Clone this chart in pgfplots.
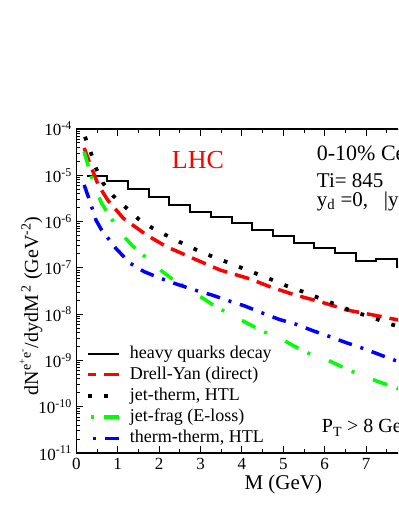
\documentclass[border=0pt]{standalone}
\usepackage{pgfplots}
\pgfplotsset{compat=1.18}
\usepackage{fontspec}
\setmainfont{Liberation Serif}
\definecolor{pRed}{RGB}{255,0,0}
\definecolor{pGreen}{RGB}{0,255,0}
\definecolor{pBlue}{RGB}{0,0,255}
\newcommand{\fs}[1]{\fontsize{#1}{#1}\selectfont}
\pgfplotsset{
  revleg/.style={legend image code/.code={\draw[##1] (31bp,0bp) -- (0bp,0bp);}},
  fwdleg/.style={legend image code/.code={\draw[##1] (0bp,0bp) -- (31bp,0bp);}},
}
\begin{document}
\begin{tikzpicture}[x=1bp,y=1bp]
\useasboundingbox (0,0) rectangle (398,515);
\clip (0,0) rectangle (398,515);
\begin{axis}[
  at={(76.3bp,62bp)}, anchor=south west,
  scale only axis, width=414bp, height=324bp,
  xmin=0, xmax=10, ymin=1e-11, ymax=1e-4,
  ymode=log,
  axis line style={line width=1.2bp},
  every tick/.style={black, line width=0.9bp},
  major tick length=7bp, minor tick length=4bp,
  tick align=inside,
  xtick={0,1,2,3,4,5,6,7,8,9,10},
  xticklabels={0,1,2,3,4,5,6,7,8,9,10},
  minor xtick={0.5,1.5,2.5,3.5,4.5,5.5,6.5,7.5,8.5,9.5},
  ytick={1e-11,1e-10,1e-9,1e-8,1e-7,1e-6,1e-5,1e-4},
  yticklabels={10\textsuperscript{-11},10\textsuperscript{-10},10\textsuperscript{-9},10\textsuperscript{-8},10\textsuperscript{-7},10\textsuperscript{-6},10\textsuperscript{-5},10\textsuperscript{-4}},
  xticklabel style={font=\fs{17bp}, anchor=base, yshift=-16.5bp},
  yticklabel style={font=\fs{17bp}, anchor=base east, xshift=-1bp, yshift=-7bp},
  xlabel={M (GeV)},
  xlabel style={font=\fs{21bp}, at={(axis description cs:0.5,0)}, anchor=base, yshift=-36.5bp},
  legend cell align=left,
  revleg,
  legend style={draw=none, fill=none, at={(axis description cs:0.0234,0.3333)}, anchor=north west,
    inner sep=0pt, outer sep=0pt, font=\fs{18bp}, row sep=4.2bp,
    nodes={inner sep=0pt, text height=13bp, text depth=4bp},
    /tikz/every odd column/.append style={column sep=9bp}},
]
\addplot[black, line width=2bp, const plot mark left] coordinates {
(0.25,9.7e-6)(0.75,7.5e-6)(1.25,5.06e-6)(1.75,3.45e-6)(2.25,2.25e-6)(2.75,1.59e-6)
(3.25,1.24e-6)(3.75,9.2e-7)(4.25,6.6e-7)(4.75,4.8e-7)(5.25,3.5e-7)(5.75,2.65e-7)
(6.25,2.07e-7)(6.75,1.43e-7)(7.25,1.56e-7)(7.75,1.06e-7)(8.25,9e-8)(8.75,7e-8)
(9.25,6e-8)(9.75,6e-8)};
\addlegendentry{heavy quarks decay}
\addplot[pRed, line width=3.5bp, dash pattern=on 15bp off 8bp] coordinates {
(0.19,3.9e-5)(0.35,1.58e-5)(0.53,6.2e-6)(0.76,2.9e-6)(1.135,1.18e-6)(1.7,5.1e-7)
(2.18,2.87e-7)(2.91,1.48e-7)(3.47,9.0e-8)(4.2,5.75e-8)(4.68,3.9e-8)(5.28,2.6e-8)
(5.89,1.86e-8)(6.53,1.23e-8)(7.17,9.6e-9)(7.77,7.5e-9)(8.5,5.5e-9)(10,3e-9)};
\addlegendentry{Drell-Yan (direct)}
\addplot[black, line width=3.8bp, dash pattern=on 3.8bp off 12.5bp, fwdleg] coordinates {
(0.21,6.8e-5)(0.35,3.1e-5)(0.476,1.42e-5)(0.65,6.7e-6)(0.894,3.57e-6)(1.2,2.0e-6)
(1.5,1.14e-6)(1.82,7.4e-7)(2.18,5.0e-7)(2.56,3.4e-7)(2.92,2.4e-7)(3.29,1.75e-7)
(3.67,1.3e-7)(4.05,9.5e-8)(4.42,7.1e-8)(4.8,5.2e-8)(5.16,3.8e-8)(5.55,2.9e-8)
(5.93,2.1e-8)(6.3,1.58e-8)(6.69,1.13e-8)(7.08,8.9e-9)(7.46,6.7e-9)(8,4.6e-9)(10,1.5e-9)};
\addlegendentry{jet-therm, HTL}
\addplot[pGreen, line width=3.5bp, dash pattern=on 15bp off 10bp on 3bp off 20bp] coordinates {
(0.19,3.2e-5)(0.35,1.02e-5)(0.476,4.8e-6)(0.61,2.5e-6)(0.81,1.29e-6)(1.12,5.1e-7)
(1.34,3.1e-7)(1.7,1.62e-7)(2.05,8.7e-8)(2.3,5.9e-8)(2.75,3.3e-8)(3.11,2.05e-8)
(3.37,1.45e-8)(3.79,9.2e-9)(4.2,5.9e-9)(4.52,4.2e-9)(4.92,3.0e-9)(5.36,1.83e-9)
(5.645,1.38e-9)(6.09,1.0e-9)(6.53,6.5e-10)(6.85,4.9e-10)(7.29,3.5e-10)(7.7,2.6e-10)
(8.5,1.5e-10)(10,5e-11)};
\addlegendentry{jet-frag (E-loss)}
\addplot[pBlue, line width=3.5bp, dash pattern=on 14bp off 9bp on 3bp off 9bp] coordinates {
(0.19,6.2e-6)(0.33,2.7e-6)(0.476,1.07e-6)(0.61,6.6e-7)(0.8,4.0e-7)(0.96,2.6e-7)
(1.3,1.26e-7)(1.635,8.3e-8)(2.02,6.0e-8)(2.44,4.4e-8)(2.87,3.3e-8)(3.27,2.6e-8)
(3.67,1.96e-8)(4.07,1.5e-8)(4.48,1.07e-8)(4.9,7.7e-9)(5.32,6.0e-9)(5.71,4.4e-9)
(6.11,3.3e-9)(6.53,2.4e-9)(6.92,1.83e-9)(7.34,1.32e-9)(7.7,1.0e-9)(8.5,6e-10)(10,2.5e-10)};
\addlegendentry{therm-therm, HTL}
\end{axis}
\node[rotate=90, anchor=base, inner sep=0pt, font=\fs{20bp}] at (38,209)
  {dN\textsuperscript{e\textsuperscript{+}e\textsuperscript{-}}/dydM\textsuperscript{\,2} (GeV\textsuperscript{-2})};
\node[anchor=base west, inner sep=0pt, text=pRed, font=\fs{26bp}] at (171.7,346.7) {LHC};
\node[anchor=base west, inner sep=0pt, font=\fs{22bp}] at (316.7,354.3) {0-10\% Central};
\node[anchor=base west, inner sep=0pt, font=\fs{21bp}] at (316.7,327.5) {Ti= 845~~~~MeV};
\node[anchor=base west, inner sep=0pt, font=\fs{21bp}] at (316.7,308.3) {y\textsubscript{d} =0,~~ |y\textsubscript{e}| < 1};
\node[anchor=base west, inner sep=0pt, font=\fs{20bp}] at (321.7,82) {P\textsubscript{T} > 8 GeV};
\end{tikzpicture}
\end{document}
